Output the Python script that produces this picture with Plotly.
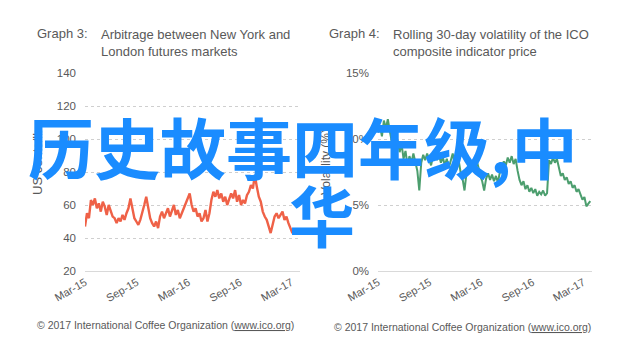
import pandas as pd
import plotly.graph_objects as go

# ---------------- data ----------------
arb_start = "2015-03-01"
arb_values = [47, 55, 52, 63, 60, 64, 58, 61, 56, 62, 59, 54, 60, 57, 53, 52, 49, 52, 50, 54,
              51, 55, 58, 64, 57, 52, 50, 48, 51, 55, 60, 65, 57, 52, 49, 47, 50, 46, 53, 56,
              52, 55, 58, 53, 56, 60, 54, 57, 52, 55, 58, 61, 63, 67, 60, 56, 58, 53, 55, 50,
              52, 57, 50, 55, 63, 68, 65, 69, 64, 67, 62, 65, 60, 63, 67, 64, 69, 62, 66, 60,
              63, 61, 66, 68, 72, 70, 78, 71, 65, 62, 56, 53, 51, 47, 43, 48, 53, 55, 52, 54,
              56, 51, 53, 49, 46, 43, 45, 44]

vol_start = "2015-03-01"
vol_values = [10.5, 11.0, 10.2, 11.4, 10.8, 11.5, 10.6, 9.8, 10.4, 9.5, 9.9, 9.0, 9.6, 8.5, 9.1,
              8.0, 8.7, 8.2, 8.9, 8.3, 7.6, 6.1, 8.2, 8.8, 8.4, 8.9, 8.5, 8.0, 8.7, 9.0,
              8.4, 8.8, 8.2, 8.6, 8.0, 8.5, 7.8, 8.3, 8.9, 8.1, 7.7, 8.4, 7.5, 7.0, 6.1,
              7.4, 8.0, 7.6, 8.3, 7.8, 8.5, 7.9, 7.2, 6.8, 6.1, 7.0, 7.4, 6.9, 7.3, 6.8,
              7.2, 6.7, 7.5, 7.9, 8.3, 8.0, 8.6, 8.2, 8.7, 8.1, 8.5, 7.6, 6.9, 6.5, 6.8,
              6.2, 6.5, 6.0, 6.3, 5.9, 6.2, 5.7, 6.0, 5.8, 6.1, 5.7, 5.9, 8.4, 8.1, 8.6,
              8.2, 8.5, 7.9, 7.2, 7.4, 6.9, 7.1, 6.6, 6.8, 6.3, 6.5, 6.0, 6.2, 5.8, 5.4,
              5.6, 4.9, 5.1, 5.3]

x_tick_dates = ["2015-03-01", "2015-09-01", "2016-03-01", "2016-09-01", "2017-03-01"]
x_tick_labels = ["Mar-15", "Sep-15", "Mar-16", "Sep-16", "Mar-17"]
left_y_ticks = [20, 40, 60, 80, 100, 120, 140]
right_y_ticks = [0, 5, 10, 15]
right_y_labels = ["0%", "5%", "10%", "15%"]

arb_dates = pd.date_range(arb_start, periods=len(arb_values), freq="7D")
vol_dates = pd.date_range(vol_start, periods=len(vol_values), freq="7D")

# ---------------- figure ----------------
W, H = 640, 347
def px_x(x): return x / W
def px_y(y): return 1 - y / H

GRAY = "#595959"
FONT = "Liberation Sans, Arial, sans-serif"

fig = go.Figure()
fig.add_trace(go.Scatter(x=arb_dates, y=arb_values, mode="lines",
                         line=dict(color="#ef6147", width=2.4),
                         xaxis="x", yaxis="y", showlegend=False))
fig.add_trace(go.Scatter(x=vol_dates, y=vol_values, mode="lines",
                         line=dict(color="#4c9e6e", width=2),
                         xaxis="x2", yaxis="y2", showlegend=False))

ydom = [px_y(271), px_y(73)]
common_x = dict(type="date", range=["2015-03-01", "2017-04-01"],
                tickmode="array", tickvals=x_tick_dates, ticktext=x_tick_labels,
                tickangle=-30, showgrid=False, zeroline=False, automargin=False,
                showline=True, linecolor="#d9d9d9", linewidth=1,
                tickfont=dict(family=FONT, size=11, color=GRAY), ticks="")
common_y = dict(domain=ydom, showgrid=True, gridcolor="#cfcfcf", griddash="dot",
                gridwidth=1, zeroline=False, showline=False, ticks="", automargin=False,
                ticklabelstandoff=8,
                tickfont=dict(family=FONT, size=11.5, color=GRAY))

fig.update_layout(
    width=W, height=H, margin=dict(l=0, r=0, t=0, b=0, autoexpand=False),
    paper_bgcolor="white", plot_bgcolor="white",
    xaxis=dict(domain=[px_x(85), px_x(300)], anchor="y", **common_x),
    yaxis=dict(range=[20, 140], tickmode="array", tickvals=left_y_ticks, anchor="x", **common_y),
    xaxis2=dict(domain=[px_x(378), px_x(592)], anchor="y2", **common_x),
    yaxis2=dict(range=[0, 15], tickmode="array", tickvals=right_y_ticks,
                ticktext=right_y_labels, anchor="x2", **common_y),
)

def ann(text, x, y, size=12, xanchor="left", yanchor="middle", color=GRAY, angle=0, font=FONT, align="left"):
    fig.add_annotation(text=text, x=px_x(x), y=px_y(y), xref="paper", yref="paper",
                       xanchor=xanchor, yanchor=yanchor, showarrow=False, align=align,
                       textangle=angle, font=dict(family=font, size=size, color=color))

# titles
ann("Graph 3:", 35, 33, size=13)
ann("Arbitrage between New York and<br>London futures markets", 99, 25, size=13, yanchor="top")
ann("Graph 4:", 327, 33, size=13)
ann("Rolling 30-day volatility of the ICO<br>composite indicator price", 391, 25, size=13, yanchor="top")

# axis titles
ann("US cents/lb", 37, 162, size=13, xanchor="center", angle=-90)
ann("Volatility (%)", 326, 162, size=12, xanchor="center", angle=-90)

# footers
ann("© 2017 International Coffee Organization (<u>www.ico.org</u>)", 35, 325, size=10.5)
ann("© 2017 International Coffee Organization (<u>www.ico.org</u>)", 332, 327, size=10.5)

# overlay text
CJK = "Noto Sans CJK SC"
ann("<b>历史故事四年级,中</b>", 302, 145, size=66, xanchor="center", color="#1a8cff", font=CJK)
ann("<b>华</b>", 322, 213, size=66, xanchor="center", color="#1a8cff", font=CJK)

fig.write_html("out.html")
